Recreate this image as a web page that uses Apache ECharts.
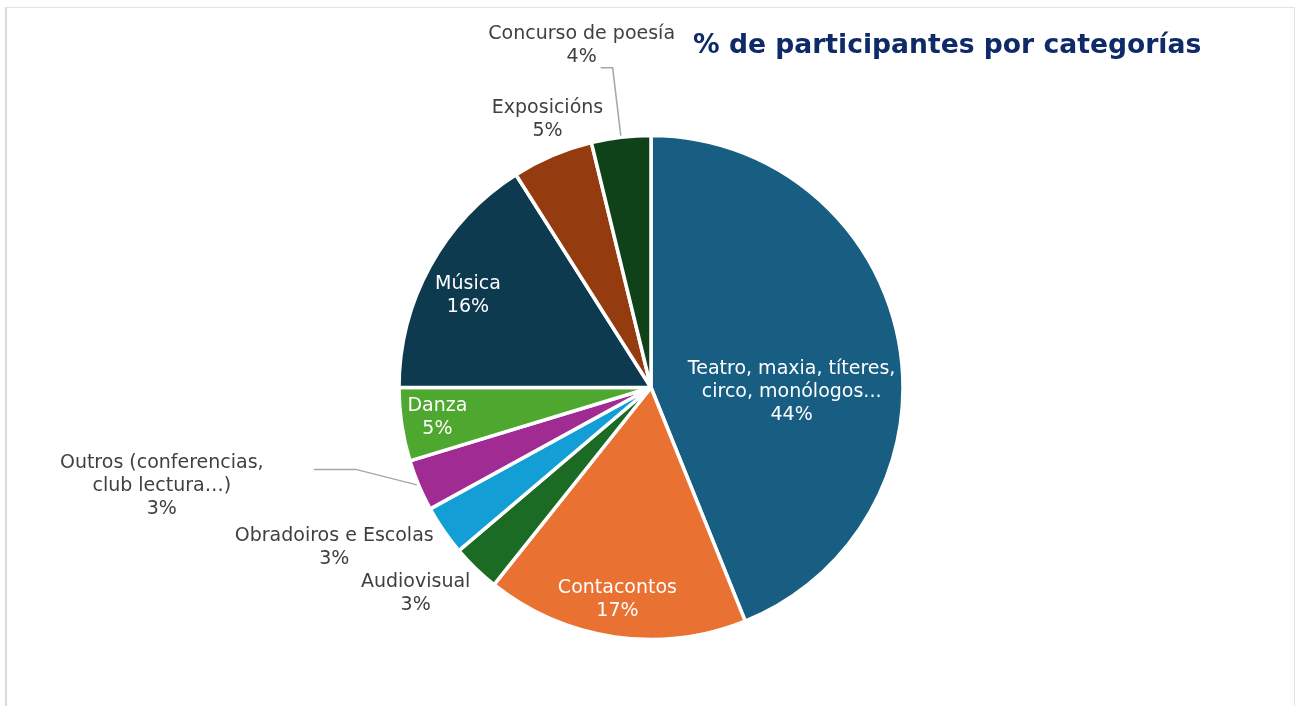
<!DOCTYPE html>
<html lang="es">

<head>
    <meta charset="UTF-8">
    <title>% de participantes por categorías</title>
    <script src="https://cdn.jsdelivr.net/npm/echarts@6/dist/echarts.min.js"></script>
    <style>
        html, body { margin: 0; padding: 0; background: #fff; overflow: hidden; }
        #main { position: absolute; left: 0; top: 0; width: 1295px; height: 706px; }
        #frame {
            position: absolute; left: 5px; top: 7px; width: 1287px; height: 760px;
            border-left: 2px solid #d9d9d9; border-top: 1px solid #e3e3e3; border-right: 1px solid #e3e3e3;
            pointer-events: none;
        }
    </style>
</head>

<body>
    <div id="main"></div>
    <div id="frame"></div>
    <script>
        // categorías, en sentido horario desde arriba
        var categories = ['Teatro, maxia, títeres,\ncirco, monólogos...', 'Contacontos', 'Audiovisual',
            'Obradoiros e Escolas', 'Outros (conferencias,\nclub lectura…)', 'Danza', 'Música',
            'Exposicións', 'Concurso de poesía'];
        var shares = [43.9, 16.8, 3.1, 3.2, 3.3, 4.7, 16.0, 5.2, 3.8];

        var colors = ['#175E82', '#E97132', '#1B6B25', '#139FD6', '#A02B93', '#4EA72E', '#0E3A50', '#953B10', '#10421A'];
        var inside = [true, true, false, false, false, true, true, false, false];
        var showLine = [false, false, false, false, true, false, false, false, true];
        var lineLen = [0, 0, 10, 10, 0, 0, 0, 15, 70];
        var lineLen2 = [0, 0, 0, 0, 105, 0, 0, 0, 12];
        // codo da liña guía (só Outros): desprazamento do punto medio e subida do tramo final
        var lineBend = [null, null, null, null, [-63, -16], null, null, null, null];
        // desprazamento da etiqueta respecto da posición por defecto
        var labelNudge = [[14, 29], [-15, 84], [-53, 18], [-101, 11], [-152, 1], [-86, 11], [-70, -30], [1, -22], [-19, -22]];

        var myChart = echarts.init(document.getElementById('main'));

        var data = categories.map(function (name, i) {
            return {
                name: name,
                value: shares[i],
                itemStyle: { color: colors[i] },
                label: inside[i] ? { position: 'inside', color: '#fff' } : { position: 'outside', color: '#404040' },
                labelLine: {
                    show: !inside[i],
                    length: lineLen[i],
                    length2: lineLen2[i],
                    lineStyle: { color: showLine[i] ? '#a6a6a6' : 'rgba(0,0,0,0)', width: 1.5 }
                }
            };
        });

        var option = {
            animation: false,
            title: {
                text: '% de participantes por categorías',
                left: 693,
                top: 33,
                padding: 0,
                textStyle: { fontFamily: 'DejaVu Sans', fontWeight: 'bold', fontSize: 26.6, color: '#0E2A68' }
            },
            series: [{
                type: 'pie',
                center: [651, 387.5],
                radius: 252,
                startAngle: 90,
                clockwise: true,
                avoidLabelOverlap: false,
                percentPrecision: 0,
                itemStyle: { borderColor: '#fff', borderWidth: 3.5 },
                label: {
                    formatter: '{b}\n{d}%',
                    fontFamily: 'DejaVu Sans',
                    fontSize: 19,
                    lineHeight: 23
                },
                labelLayout: function (p) {
                    var i = p.dataIndex;
                    var n = labelNudge[i];
                    var pts = p.labelLinePoints;
                    var bx, by;
                    if (pts && pts.length) {
                        bx = pts[pts.length - 1][0];
                        by = pts[pts.length - 1][1];
                    } else {
                        bx = p.labelRect.x + p.labelRect.width / 2;
                        by = p.labelRect.y + p.labelRect.height / 2;
                    }
                    var out = { x: bx + n[0], y: by + n[1], align: 'center', verticalAlign: 'middle' };
                    if (pts) {
                        var b = lineBend[i];
                        if (b) {
                            var p0 = pts[0], p2 = pts[pts.length - 1];
                            out.labelLinePoints = [p0, [p0[0] + b[0], p0[1] + b[1]], [p2[0], p2[1] + b[1]]];
                        } else {
                            out.labelLinePoints = pts;
                        }
                    }
                    return out;
                },
                data: data
            }]
        };

        myChart.setOption(option);
    </script>
</body>

</html>
